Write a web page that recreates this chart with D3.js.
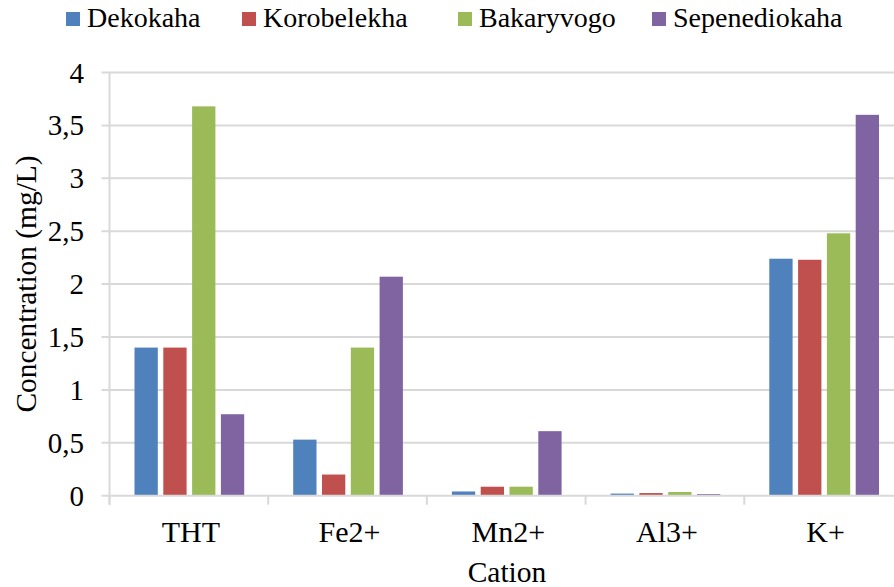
<!DOCTYPE html>
<html><head><meta charset="utf-8">
<script src="https://cdn.jsdelivr.net/npm/d3@7"></script>
</head><body style="margin:0">
<script>
const categories = ["THT", "Fe2+", "Mn2+", "Al3+", "K+"];
const seriesNames = ["Dekokaha", "Korobelekha", "Bakaryvogo", "Sepenediokaha"];
const dekokaha = [1.40, 0.53, 0.04, 0.02, 2.24];
const korobelekha = [1.40, 0.20, 0.085, 0.025, 2.23];
const bakaryvogo = [3.68, 1.40, 0.085, 0.035, 2.48];
const sepenediokaha = [0.77, 2.07, 0.61, 0.015, 3.60];
const yTicks = [0, 0.5, 1, 1.5, 2, 2.5, 3, 3.5, 4];
const yTickLabels = ["0", "0,5", "1", "1,5", "2", "2,5", "3", "3,5", "4"];
const colors = ["#4F81BD", "#C0504D", "#9BBB59", "#8064A2"];
const seriesValues = [dekokaha, korobelekha, bakaryvogo, sepenediokaha];

const W = 894, H = 587;
const L = 109.5, R = 903, T = 72.5, B = 495.7;
const svg = d3.select("body").append("svg").attr("width", W).attr("height", H)
  .style("display", "block").attr("font-family", "Liberation Serif");
svg.append("rect").attr("width", W).attr("height", H).attr("fill", "#fff");

const x0 = d3.scaleBand().domain(categories).range([L, R]).paddingInner(0).paddingOuter(0);
const x1 = d3.scaleBand().domain(seriesNames).range([25, 134.7]).paddingInner(0.191).paddingOuter(0);
const y = d3.scaleLinear().domain([0, 4]).range([B, T]);

function label(sel) {
  return sel.style("font-family", '"Liberation Serif"').attr("fill", "#000");
}

// gridlines
svg.append("g").selectAll("line").data(yTicks.slice(1)).join("line")
  .attr("x1", L - 8).attr("x2", R).attr("y1", d => y(d)).attr("y2", d => y(d))
  .attr("stroke", "#D9D9D9").attr("stroke-width", 2);

// bars
const groups = svg.append("g").selectAll("g").data(categories).join("g")
  .attr("transform", d => `translate(${x0(d)},0)`);
groups.selectAll("rect").data((c, i) => seriesNames.map((s, j) => ({s, j, v: seriesValues[j][i]}))).join("rect")
  .attr("x", d => x1(d.s)).attr("width", x1.bandwidth())
  .attr("y", d => y(d.v)).attr("height", d => B - y(d.v))
  .attr("fill", d => colors[d.j]);

// x axis
svg.append("line").attr("x1", L - 8).attr("x2", R).attr("y1", B).attr("y2", B)
  .attr("stroke", "#D9D9D9").attr("stroke-width", 2);
svg.append("g").selectAll("line").data(d3.range(categories.length + 1)).join("line")
  .attr("x1", i => L + i * x0.step()).attr("x2", i => L + i * x0.step())
  .attr("y1", B).attr("y2", B + 9).attr("stroke", "#D9D9D9").attr("stroke-width", 2);
categories.forEach(c => {
  label(svg.append("text")).attr("x", x0(c) + x0.bandwidth() / 2 + 2).attr("y", 541.5)
    .attr("text-anchor", "middle").attr("font-size", 30).text(c);
});

// y axis
svg.append("line").attr("x1", L).attr("x2", L).attr("y1", T).attr("y2", B + 9)
  .attr("stroke", "#D9D9D9").attr("stroke-width", 2);
yTicks.forEach((t, i) => {
  label(svg.append("text")).attr("x", 84).attr("y", y(t) + 10)
    .attr("text-anchor", "end").attr("font-size", 29).text(yTickLabels[i]);
});

// titles
label(svg.append("text")).attr("x", 507).attr("y", 582).attr("text-anchor", "middle")
  .attr("font-size", 29.5).text("Cation");
label(svg.append("text")).attr("transform", "translate(36,284) rotate(-90)").attr("text-anchor", "middle")
  .attr("font-size", 29.4).text("Concentration (mg/L)");

// legend
const legendStarts = [66, 242, 458, 652];
seriesNames.forEach((s, i) => {
  svg.append("rect").attr("x", legendStarts[i]).attr("y", 12).attr("width", 14).attr("height", 14).attr("fill", colors[i]);
  label(svg.append("text")).attr("x", legendStarts[i] + 21).attr("y", 27.3).attr("font-size", 28).text(s);
});
</script>
</body></html>
